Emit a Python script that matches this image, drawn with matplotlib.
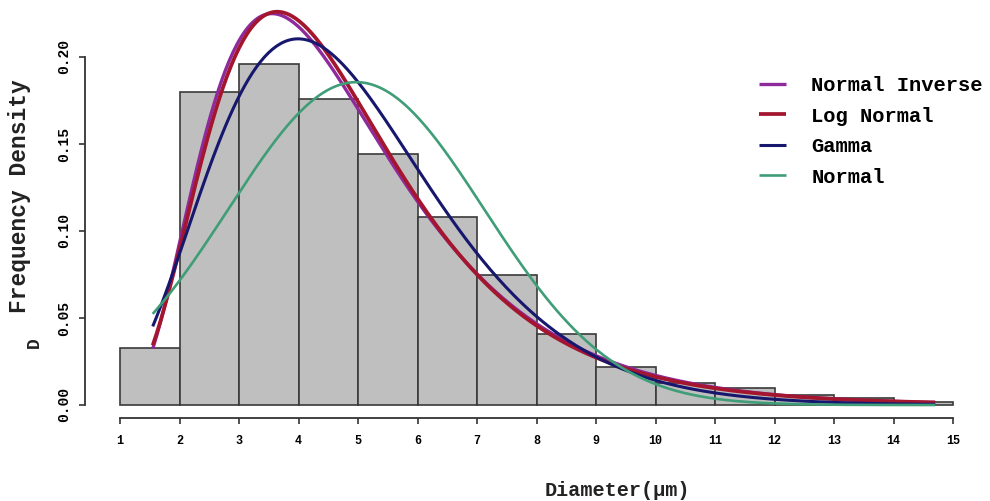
import math
import numpy as np
import matplotlib
matplotlib.use("Agg")
import matplotlib.pyplot as plt

# histogram of diameters (bin edges in um, density per bin)
bin_edges = [1, 2, 3, 4, 5, 6, 7, 8, 9, 10, 11, 12, 13, 14, 15]
bin_density = [0.033, 0.180, 0.196, 0.176, 0.144, 0.108, 0.075, 0.041,
               0.022, 0.0125, 0.0098, 0.006, 0.004, 0.0015]

# range of the observed diameters (curves are drawn over it)
data_min = 1.55
data_max = 14.7

# fitted distribution parameters
invgauss_params = {"mu": 4.87, "lam": 22.8}
lognorm_params = {"meanlog": 1.486, "sdlog": 0.44}
gamma_params = {"shape": 5.6, "rate": 1.152}
normal_params = {"mean": 4.97, "sd": 2.15}

curve_names = ["Normal Inverse", "Log Normal", "Gamma", "Normal"]
curve_colors = ["#8e2a9c", "#a3162e", "#17176e", "#3f9d78"]


def pdf_invgauss(x, mu, lam):
    return np.sqrt(lam / (2 * np.pi * x ** 3)) * np.exp(-lam * (x - mu) ** 2 / (2 * mu ** 2 * x))


def pdf_lognorm(x, meanlog, sdlog):
    return np.exp(-(np.log(x) - meanlog) ** 2 / (2 * sdlog ** 2)) / (x * sdlog * np.sqrt(2 * np.pi))


def pdf_gamma(x, shape, rate):
    return np.exp(shape * np.log(rate) + (shape - 1) * np.log(x) - rate * x - math.lgamma(shape))


def pdf_normal(x, mean, sd):
    return np.exp(-(x - mean) ** 2 / (2 * sd ** 2)) / (sd * np.sqrt(2 * np.pi))


mono = "Liberation Mono"

fig = plt.figure(figsize=(9.9, 5.01), dpi=100)
# axes from px 85..960 horizontally, px 5..418 vertically
ax = fig.add_axes([85 / 990, 83 / 501, 875 / 990, 413 / 501])

widths = np.diff(bin_edges)
ax.bar(bin_edges[:-1], bin_density, width=widths, align="edge",
       color="#bfbfbf", edgecolor="#3a3a3a", linewidth=1.2, zorder=1)

xs = np.linspace(data_min, data_max, 400)
curves = [
    pdf_invgauss(xs, **invgauss_params),
    pdf_lognorm(xs, **lognorm_params),
    pdf_gamma(xs, **gamma_params),
    pdf_normal(xs, **normal_params),
]
widths_lw = [2.4, 2.7, 2.2, 1.9]
handles = []
for name, col, ys, lw in zip(curve_names, curve_colors, curves, widths_lw):
    h, = ax.plot(xs, ys, color=col, linewidth=lw, label=name, zorder=3,
                 solid_capstyle="butt", clip_on=False)
    handles.append(h)

ax.set_xlim(1 - 35 / 59.5, 15 + 7 / 59.5)
ax.set_ylim(-13 / 1740, (405 - 5) / 1740)

for side in ["top", "right"]:
    ax.spines[side].set_visible(False)
ax.spines["left"].set_bounds(0, 0.20)
ax.spines["bottom"].set_bounds(1, 15)
for side in ["left", "bottom"]:
    ax.spines[side].set_linewidth(1.3)
    ax.spines[side].set_color("#333333")

ax.set_xticks(range(1, 16))
ax.set_xticklabels([str(i) for i in range(1, 16)], fontfamily=mono,
                   fontweight="bold", fontsize=8.5)
yt = [0.00, 0.05, 0.10, 0.15, 0.20]
ax.set_yticks(yt)
ax.set_yticklabels(["%.2f" % v for v in yt], fontfamily=mono,
                   fontweight="bold", fontsize=10.5, rotation=90, va="center")
ax.tick_params(axis="both", length=4, width=1.2, color="#333333")
ax.tick_params(axis="x", pad=8)
ax.tick_params(axis="y", pad=6)

fig.text(20 / 990, 1 - 196 / 501, "Frequency Density", rotation=90,
         ha="center", va="center", fontfamily=mono, fontweight="bold",
         fontsize=16.5, color="#222222")
fig.text(34 / 990, 1 - 343 / 501, "D", rotation=90, ha="center", va="center",
         fontfamily=mono, fontweight="bold", fontsize=13, color="#222222")
fig.text(617 / 990, 1 - 490 / 501, "Diameter(\u03bcm)", ha="center",
         va="center", fontfamily=mono, fontweight="bold", fontsize=14.5,
         color="#222222")

ax.legend(handles=handles, loc="upper left", frameon=False,
          bbox_to_anchor=(759 / 990, 1 - 76 / 501),
          bbox_transform=fig.transFigure, borderaxespad=0, borderpad=0,
          handlelength=1.3, handletextpad=1.25, labelspacing=0.56,
          prop={"family": mono, "weight": "bold", "size": 14.8})

fig.savefig("out.png", dpi=100)
